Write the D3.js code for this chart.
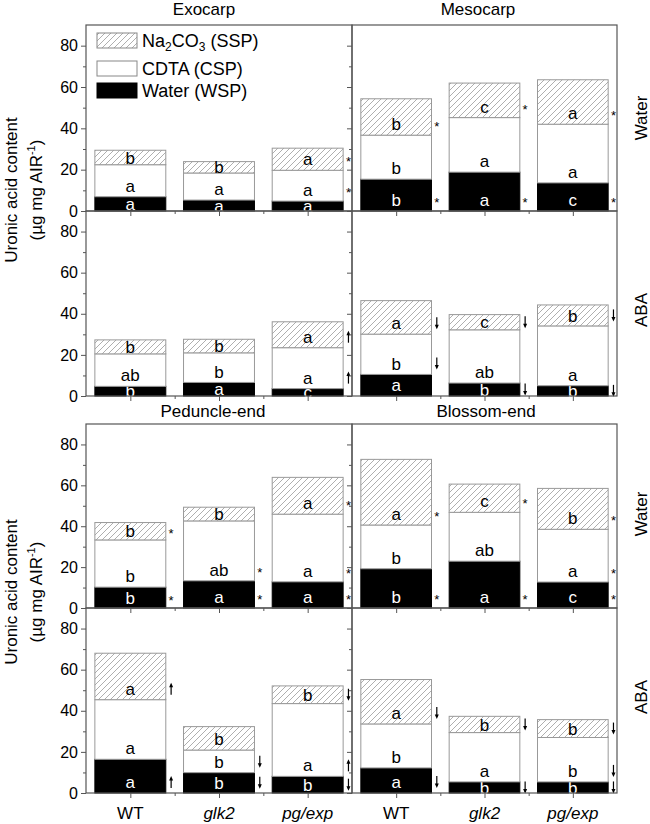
<!DOCTYPE html>
<html><head><meta charset="utf-8">
<script src="https://cdn.jsdelivr.net/npm/d3@7"></script>
<style>
body{margin:0;background:#fff;}
svg{display:block;font-family:"Liberation Sans",Arial,sans-serif;}
</style></head>
<body><svg id="chart" width="650" height="824"></svg>
<script>
// ---------- DATA ----------
const genotypes = ["WT", "glk2", "pg/exp"];
const tissues = ["Exocarp", "Mesocarp", "Peduncle-end", "Blossom-end"];
const treatments = ["Water", "ABA"];
const fractions = ["Water (WSP)", "CDTA (CSP)", "Na2CO3 (SSP)"];
const yTicks = [0, 20, 40, 60, 80];

// panels in order: Exocarp-Water, Mesocarp-Water, Exocarp-ABA, Mesocarp-ABA,
// Peduncle-Water, Blossom-Water, Peduncle-ABA, Blossom-ABA ; values per genotype
const waterWSP = [
  [6.9, 5.3, 4.8], [15.4, 18.8, 13.6],
  [4.7, 6.6, 3.6], [10.5, 6.3, 5.0],
  [10.2, 13.3, 12.8], [19.2, 22.9, 12.7],
  [16.4, 9.9, 8.1], [12.2, 5.4, 5.4]
];
const cdtaCSP = [
  [15.5, 13.1, 14.9], [21.3, 26.4, 28.4],
  [15.8, 14.4, 19.9], [19.6, 25.9, 29.1],
  [23.1, 29.3, 33.1], [21.4, 23.9, 25.8],
  [29.0, 11.0, 35.4], [21.4, 24.0, 21.6]
];
const na2co3SSP = [
  [7.0, 5.5, 10.7], [17.6, 16.7, 21.5],
  [6.8, 6.6, 12.6], [16.3, 7.4, 10.2],
  [8.5, 6.7, 18.0], [32.1, 13.8, 20.0],
  [22.6, 11.4, 8.6], [21.6, 7.9, 8.7]
];
const lettersWSP = [
  ["a","a","a"], ["b","a","c"], ["b","a","c"], ["a","b","b"],
  ["b","a","a"], ["b","a","c"], ["a","b","b"], ["a","b","b"]
];
const lettersCSP = [
  ["a","a","a"], ["b","a","a"], ["ab","b","a"], ["b","ab","a"],
  ["b","ab","a"], ["b","ab","a"], ["a","b","a"], ["b","a","b"]
];
const lettersSSP = [
  ["b","b","a"], ["b","c","a"], ["b","b","a"], ["a","c","b"],
  ["b","b","a"], ["a","c","b"], ["a","b","b"], ["a","b","b"]
];
// significance marks ("*" = differs from WT, "up"/"down" = ABA effect)
const marksWSP = [
  ["","",""], ["*","*","*"], ["","",""], ["","down","down"],
  ["*","*","*"], ["*","*","*"], ["up","down","down"], ["down","down","down"]
];
const marksCSP = [
  ["","","*"], ["","",""], ["","","up"], ["down","",""],
  ["","*","*"], ["","","*"], ["","down","up"], ["","","down"]
];
const marksSSP = [
  ["","","*"], ["*","*","*"], ["","","up"], ["down","down","down"],
  ["*","","*"], ["*","*","*"], ["up","","down"], ["down","down","down"]
];

// ---------- LAYOUT ----------
const svg = d3.select("#chart");
const colX = [[86, 352], [352, 617]];
const rowY = [[25, 211], [211, 396], [424, 608], [608, 793]];
const frameColor = "#555";
const barStroke = "#999";

const defs = svg.append("defs");
const pat = defs.append("pattern").attr("id","hatch").attr("patternUnits","userSpaceOnUse")
  .attr("width",6).attr("height",6);
pat.append("rect").attr("width",6).attr("height",6).attr("fill","#fff");
pat.append("path").attr("d","M0,6 L6,0 M-1,1 L1,-1 M5,7 L7,5")
  .attr("stroke","#9a9a9a").attr("stroke-width",0.8);

const fills = ["#000", "#fff", "url(#hatch)"];
const labelColors = ["#fff", "#000", "#000"];
const valueSets = [waterWSP, cdtaCSP, na2co3SSP];
const letterSets = [lettersWSP, lettersCSP, lettersSSP];
const markSets = [marksWSP, marksCSP, marksSSP];

for (let r = 0; r < 4; r++) {
  for (let c = 0; c < 2; c++) {
    const p = r * 2 + c;
    const x = d3.scaleLinear().domain([0.5, 3.5]).range(colX[c]);
    const y = d3.scaleLinear().domain([0, 90]).range([rowY[r][1], rowY[r][0]]);
    const g = svg.append("g");

    // bars
    genotypes.forEach((gen, i) => {
      let cum = 0;
      for (let f = 0; f < 3; f++) {
        const v = valueSets[f][p][i];
        const y0 = y(cum), y1 = y(cum + v);
        cum += v;
        g.append("rect")
          .attr("x", x(i + 1 - 0.4)).attr("width", x(i + 1.4) - x(i + 0.6))
          .attr("y", y1).attr("height", y0 - y1)
          .attr("fill", fills[f]).attr("stroke", f === 0 ? "#000" : barStroke)
          .attr("stroke-width", 1);
        const ly = Math.max((y0 + y1) / 2, y0 - 11);
        g.append("text").attr("x", x(i + 1)).attr("y", ly).attr("dy", "0.36em")
          .attr("text-anchor", "middle").attr("font-size", 17)
          .attr("fill", labelColors[f]).text(letterSets[f][p][i]);
        const m = markSets[f][p][i];
        const mx = x(i + 1 + 0.46);
        if (m === "*") {
          g.append("text").attr("x", mx).attr("y", ly + 7).attr("text-anchor", "middle")
            .attr("font-size", 13).attr("fill", "#000").text("*");
        } else if (m === "up" || m === "down") {
          const tip = m === "up" ? ly - 6 : ly + 6;
          const tail = m === "up" ? ly + 6 : ly - 6;
          const s = m === "up" ? 1 : -1;
          g.append("line").attr("x1", mx).attr("x2", mx).attr("y1", tail).attr("y2", tip + s * 2)
            .attr("stroke", "#000").attr("stroke-width", 1.2);
          g.append("path").attr("d", `M${mx},${tip} L${mx - 2},${tip + s * 4.5} L${mx + 2},${tip + s * 4.5} Z`)
            .attr("fill", "#000");
        }
      }
    });

    // left axis ticks
    const ax = d3.axisLeft(y).tickValues(yTicks).tickSize(5).tickPadding(3)
      .tickFormat(c === 0 ? d3.format("d") : () => "");
    const gAx = svg.append("g").attr("transform", `translate(${colX[c][0]},0)`).call(ax);
    gAx.select(".domain").remove();
    gAx.selectAll("line").attr("stroke", frameColor);
    gAx.selectAll("text").attr("font-size", 16).attr("fill", "#000")
      .attr("font-family", '"Liberation Sans",Arial,sans-serif');
    const axm = d3.axisLeft(y).tickValues([10, 30, 50, 70]).tickSize(3).tickFormat(() => "");
    const gAxm = svg.append("g").attr("transform", `translate(${colX[c][0]},0)`).call(axm);
    gAxm.select(".domain").remove();
    gAxm.selectAll("line").attr("stroke", frameColor);

    // bottom ticks
    const bx = d3.axisBottom(x).tickValues([1, 2, 3]).tickSize(5).tickFormat(() => "");
    const gBx = svg.append("g").attr("transform", `translate(0,${rowY[r][1]})`).call(bx);
    gBx.select(".domain").remove();
    gBx.selectAll("line").attr("stroke", frameColor);
    const bxm = d3.axisBottom(x).tickValues([1.5, 2.5]).tickSize(3).tickFormat(() => "");
    const gBxm = svg.append("g").attr("transform", `translate(0,${rowY[r][1]})`).call(bxm);
    gBxm.select(".domain").remove();
    gBxm.selectAll("line").attr("stroke", frameColor);

    if (r === 3) {
      genotypes.forEach((gen, i) => {
        svg.append("text").attr("x", x(i + 1)).attr("y", 819).attr("text-anchor", "middle")
          .attr("font-size", 17).attr("font-style", i === 0 ? "normal" : "italic").text(gen);
      });
    }

    // frame
    svg.append("rect").attr("x", colX[c][0]).attr("y", rowY[r][0])
      .attr("width", colX[c][1] - colX[c][0]).attr("height", rowY[r][1] - rowY[r][0])
      .attr("fill", "none").attr("stroke", frameColor).attr("stroke-width", 1.2);
  }
}

// tissue titles
const titlePos = [[204, 15], [478, 15], [213, 417], [486, 417]];
tissues.forEach((t, k) => {
  svg.append("text").attr("x", titlePos[k][0]).attr("y", titlePos[k][1])
    .attr("text-anchor", "middle").attr("font-size", 17).text(t);
});

// treatment labels on the right
const rowCenters = [118, 310, 514, 697];
rowCenters.forEach((cy, r) => {
  svg.append("text").attr("transform", `translate(647,${cy}) rotate(-90)`)
    .attr("text-anchor", "middle").attr("font-size", 17).text(treatments[r % 2]);
});

// y-axis titles
[190, 592].forEach(cy => {
  const t = svg.append("text").attr("transform", `translate(17,${cy}) rotate(-90)`)
    .attr("text-anchor", "middle").attr("font-size", 17);
  t.append("tspan").attr("x", 0).attr("dy", 0).text("Uronic acid content");
  t.append("tspan").attr("x", 0).attr("dy", 25).text("(\u00b5g mg AIR");
  t.append("tspan").attr("dy", -7).attr("font-size", 11).text("-1");
  t.append("tspan").attr("dy", 7).text(")");
});

// legend
const lg = svg.append("g");
const legendItems = [2, 1, 0];
legendItems.forEach((f, k) => {
  const yy = [33, 61, 83][k];
  lg.append("rect").attr("x", 97).attr("y", yy).attr("width", 40).attr("height", 15)
    .attr("fill", fills[f]).attr("stroke", f === 0 ? "#000" : "#888");
  const t = lg.append("text").attr("x", 142).attr("y", yy + 7.5).attr("dy", "0.36em")
    .attr("font-size", 18);
  if (f === 2) {
    t.append("tspan").text("Na");
    t.append("tspan").attr("font-size", 12).attr("dy", 4).text("2");
    t.append("tspan").attr("dy", -4).text("CO");
    t.append("tspan").attr("font-size", 12).attr("dy", 4).text("3");
    t.append("tspan").attr("dy", -4).text(" (SSP)");
  } else {
    t.text(fractions[f]);
  }
});
</script></body></html>
